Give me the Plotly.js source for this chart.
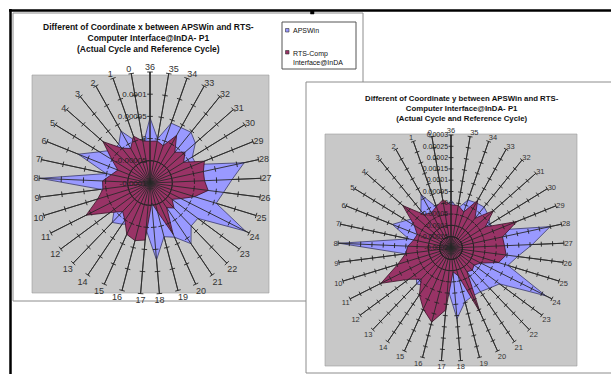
<!DOCTYPE html>
<html><head><meta charset="utf-8">
<script src="https://cdn.plot.ly/plotly-3.0.1.min.js"></script>
<style>html,body{margin:0;padding:0;background:#fff;overflow:hidden;} #chart{width:611px;height:374px;}</style>
</head><body><div id="chart"></div>
<script>
// ---------- data ----------
const categories = ["0","1","2","3","4","5","6","7","8","9","10","11","12","13","14","15","16","17","18",
  "19","20","21","22","23","24","25","26","27","28","29","30","31","32","33","34","35","36"];
const seriesNames = ["APSWin", "RTS-Comp<br>Interface@InDA"];
const seriesColors = ["#9999ff", "#993366"];

// Chart 1: difference of coordinate x
const xAPSWin = [-0.000011, 0.000001, 0.000034, 0.000012, 0.000012, 0.000034, 0.000074, 0.000001, 0.000148,
  0.000012, 0.000000, -0.000011, 0.000000, 0.000023, 0.000012, 0.000001, -0.000011, 0.000005, 0.000074,
  0.000025, 0.000034, 0.000065, 0.000034, 0.000034, 0.000141, 0.000056, 0.000067, 0.000085, 0.000117,
  0.000012, 0.000012, 0.000036, 0.000047, 0.000043, 0.000043, 0.000001, 0.000047];
const xRTS = [-0.000004, 0.000012, -0.000011, 0.000001, 0.000041, 0.000001, -0.000022, -0.000011, 0.000007,
  0.000007, 0.000023, 0.000061, 0.000012, -0.000011, 0.000001, 0.000027, 0.000034, 0.000029, -0.000055,
  -0.000033, 0.000027, -0.000033, -0.000022, -0.000038, -0.000022, 0.000005, 0.000032, 0.000023, 0.000023,
  0.000032, -0.000011, 0.000005, -0.000011, 0.000023, -0.000011, -0.000004, -0.000006];

// Chart 2: difference of coordinate y
const yAPSWin = [-0.000031, -0.000009, 0.000071, 0.000012, 0.000003, 0.000033, 0.000080, -0.000009, 0.000295,
  0.000003, -0.000022, -0.000039, -0.000009, 0.000020, 0.000003, -0.000022, -0.000031, -0.000022, 0.000114,
  0.000046, 0.000033, 0.000033, 0.000046, 0.000067, 0.000270, 0.000063, 0.000097, 0.000160, 0.000249,
  0.000012, 0.000003, 0.000020, 0.000033, 0.000029, 0.000025, -0.000022, 0.000012];
const yRTS = [0.000016, -0.000005, -0.000022, -0.000009, 0.000084, -0.000009, -0.000039, -0.000031, -0.000009,
  0.000003, 0.000046, 0.000147, 0.000033, -0.000009, 0.000050, 0.000097, 0.000139, 0.000075, -0.000094,
  -0.000073, 0.000114, -0.000073, -0.000064, -0.000073, -0.000052, 0.000020, 0.000046, 0.000037, 0.000033,
  0.000114, -0.000022, 0.000050, -0.000031, 0.000042, -0.000031, -0.000009, -0.000009];

const xTickVals = [-0.0001, -0.00005, 0, 0.00005, 0.0001, 0.00015];
const xTickText = ["-0.0001", "-0.00005", "0", "0.00005", "0.0001", ""];
const yTickVals = [-0.0002, -0.00015, -0.0001, -0.00005, 0, 0.00005, 0.0001, 0.00015, 0.0002, 0.00025, 0.0003];
const yTickText = ["-0.0002", "-0.00015", "-0.0001", "-0.00005", "0", "0.00005", "0.0001", "0.00015", "0.0002", "0.00025", "0.0003"];

const title1 = "Different of Coordinate x between APSWin and RTS-<br>Computer Interface@InDA- P1<br>(Actual Cycle and Reference Cycle)";
const title2 = "Different of Coordinate y between APSWin and RTS-<br>Computer Interface@InDA- P1<br>(Actual Cycle and Reference Cycle)";

// ---------- build ----------
const W = 611, H = 374;
const X = px => px / W, Y = py => 1 - py / H;
const FONT = "Liberation Sans, Arial, sans-serif";
const step = 360 / categories.length;

function radarTraces(subplot, aps, rts, tickVals, tickSize) {
  const close = a => a.concat([a[0]]);
  const th = close(categories);
  const rmin = tickVals[0], rmax = tickVals[tickVals.length - 1];
  const spokeR = [], spokeT = [];
  categories.forEach(c => { spokeR.push(rmin, rmax, null); spokeT.push(c, c, c); });
  const tr = [], tt = [], ta = [];
  tickVals.slice(1).forEach(v => categories.forEach((c, k) => { tr.push(v); tt.push(c); ta.push(-(k + 1) * step); }));
  return [
    {type: 'scatterpolar', subplot, r: close(aps), theta: th, mode: 'lines', fill: 'toself',
     fillcolor: seriesColors[0], line: {color: '#3a3a6a', width: 0.8}, name: seriesNames[0], showlegend: false, hoverinfo: 'skip'},
    {type: 'scatterpolar', subplot, r: close(rts), theta: th, mode: 'lines', fill: 'toself',
     fillcolor: seriesColors[1], line: {color: '#3a1226', width: 0.8}, name: seriesNames[1], showlegend: false, hoverinfo: 'skip'},
    {type: 'scatterpolar', subplot, r: spokeR, theta: spokeT, mode: 'lines',
     line: {color: '#2a2a2a', width: 0.9}, showlegend: false, hoverinfo: 'skip'},
    {type: 'scatterpolar', subplot, r: tr, theta: tt, mode: 'markers',
     marker: {symbol: 'line-ew', size: tickSize, angle: ta, color: '#222', line: {color: '#222', width: 0.9}},
     showlegend: false, hoverinfo: 'skip'}
  ];
}

function polarLayout(cx, cy, rad, tickVals, tickText, catSize, valSize) {
  return {
    domain: {x: [X(cx - rad), X(cx + rad)], y: [Y(cy + rad), Y(cy - rad)]},
    bgcolor: 'rgba(0,0,0,0)',
    angularaxis: {type: 'category', categoryorder: 'array', categoryarray: categories,
      direction: 'counterclockwise', rotation: 90 + step, showgrid: true, gridcolor: '#333', gridwidth: 0.9,
      showline: false, ticks: '', tickfont: {family: FONT, size: catSize, color: '#333'}},
    radialaxis: {range: [tickVals[0], tickVals[tickVals.length - 1]], angle: 90, side: 'counterclockwise',
      showgrid: false, showline: true, linecolor: '#222', linewidth: 1, ticks: '',
      tickmode: 'array', tickvals: tickVals, ticktext: tickText, tickangle: 90,
      tickfont: {family: FONT, size: valSize, color: '#222'}}
  };
}

const data = [].concat(
  radarTraces('polar', xAPSWin, xRTS, xTickVals, 4),
  radarTraces('polar2', yAPSWin, yRTS, yTickVals, 3.5)
);

function rect(x0, y0, x1, y1, fill, line, lw) {
  return {type: 'rect', xref: 'paper', yref: 'paper', x0: X(x0), x1: X(x1), y0: Y(y1), y1: Y(y0),
    fillcolor: fill, line: {color: line, width: lw}, layer: 'below'};
}
function seg(x0, y0, x1, y1, color, lw) {
  return {type: 'line', xref: 'paper', yref: 'paper', x0: X(x0), x1: X(x1), y0: Y(y0), y1: Y(y1),
    line: {color, width: lw}, layer: 'below'};
}
function label(text, x, y, size, xanchor, yanchor) {
  return {text, xref: 'paper', yref: 'paper', x: X(x), y: Y(y), xanchor, yanchor, align: xanchor === 'left' ? 'left' : 'center',
    showarrow: false, font: {family: FONT, size, color: '#111'}};
}

const layout = {
  width: W, height: H, margin: {l: 0, r: 0, t: 0, b: 0},
  paper_bgcolor: '#fff', font: {family: FONT},
  polar: polarLayout(150, 183, 111, xTickVals, xTickText, 9, 8),
  polar2: polarLayout(451, 248, 113, yTickVals, yTickText, 7.5, 7),
  showlegend: false,
  shapes: [
    rect(13, 13, 363, 301, '#fff', '#8c8c8c', 1),
    rect(32, 75, 269, 293, '#c8c8c8', '#9a9a9a', 0.6),
    rect(306, 82, 613, 373, '#fff', '#8c8c8c', 1),
    rect(325, 134, 577, 366, '#c8c8c8', '#9a9a9a', 0.6),
    seg(9, 10.5, 611, 10.5, '#000', 2.5),
    seg(10.5, 9, 10.5, 374, '#000', 2.5),
    rect(310.5, 10.5, 314, 14, '#000', '#000', 0.5),
    // legend box and keys
    rect(282, 22, 356, 69, '#fff', '#555', 1),
    rect(285.5, 28.5, 289, 32, seriesColors[0], '#333', 0.6),
    rect(285.5, 50.5, 289, 54, seriesColors[1], '#333', 0.6)
  ],
  annotations: [
    label('<b>' + title1 + '</b>', 148, 38.5, 8.5, 'center', 'middle'),
    label('<b>' + title2 + '</b>', 462, 108.5, 7.8, 'center', 'middle'),
    label(seriesNames[0], 291, 30.5, 7, 'left', 'middle'),
    label(seriesNames[1], 291, 57.5, 7, 'left', 'middle')
  ]
};

Plotly.newPlot('chart', data, layout, {staticPlot: true, displayModeBar: false});
</script></body></html>
